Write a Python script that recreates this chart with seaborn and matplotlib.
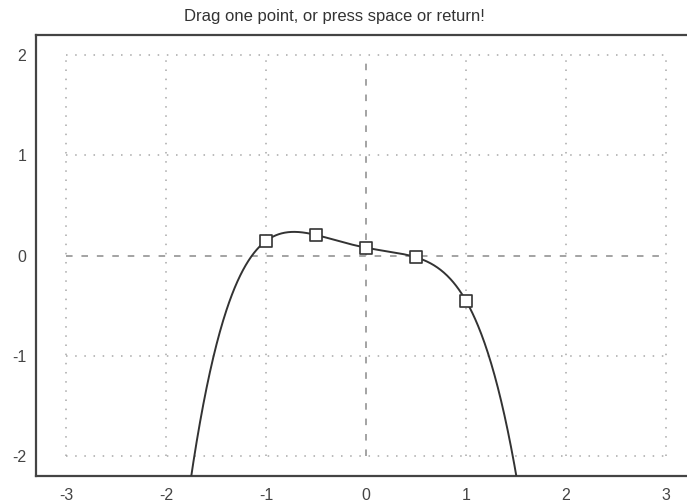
import numpy as np
import pandas as pd
import matplotlib
matplotlib.use("Agg")
import matplotlib.pyplot as plt
import seaborn as sns

# Data
point_x = [-1.0, -0.5, 0.0, 0.5, 1.0]
point_y = [0.145, 0.205, 0.078, -0.018, -0.452]
x_ticks = [-3, -2, -1, 0, 1, 2, 3]
y_ticks = [-2, -1, 0, 1, 2]
title = "Drag one point, or press space or return!"

sns.set_theme(style="white")
plt.rcParams['font.family'] = ['Liberation Sans', 'DejaVu Sans']

fig = plt.figure(figsize=(6.87, 5.04), dpi=100)
ax = fig.add_axes([36/687, 1-476/504, 660/687, 441/504])

# interpolating polynomial through the points (as in the original chart)
coef = np.polyfit(point_x, point_y, len(point_x) - 1)
xs = np.linspace(-3.3, 3.3, 1200)
curve = pd.DataFrame({"x": xs, "y": np.polyval(coef, xs)})

dot_kw = dict(color="#a8a8a8", lw=1.1, zorder=1, ls=(0, (1, 5)))
dash_kw = dict(color="#8a8a8a", lw=1.1, zorder=1, ls=(0, (4.3, 5.8)))
for t in x_ticks:
    kw = dash_kw if t == 0 else dot_kw
    ax.plot([t, t], [y_ticks[0], y_ticks[-1]], **kw)
for t in y_ticks:
    kw = dash_kw if t == 0 else dot_kw
    ax.plot([x_ticks[0], x_ticks[-1]], [t, t], **kw)

sns.lineplot(data=curve, x="x", y="y", ax=ax, color="#333333", lw=1.4,
             sort=False, zorder=3)
pts = pd.DataFrame({"x": point_x, "y": point_y})
sns.scatterplot(data=pts, x="x", y="y", ax=ax, marker="s", s=80,
                facecolor="white", edgecolor="#333333", linewidth=1.2, zorder=4)

ax.set_xlim(-3.3, 3.3)
ax.set_ylim(-2.2, 2.2)
ax.set_xticks(x_ticks)
ax.set_yticks(y_ticks)
ax.set_xticklabels([str(t) for t in x_ticks])
ax.set_yticklabels([str(t) for t in y_ticks])
ax.set_xlabel("")
ax.set_ylabel("")
ax.tick_params(axis="both", length=0, labelsize=11.5, colors="#444444")
ax.tick_params(axis="x", pad=9)
ax.tick_params(axis="y", pad=7)
for s in ax.spines.values():
    s.set_color("#444444")
    s.set_linewidth(1.6)
fig.text(334/687, 1 - 16/504, title, fontsize=12, color="#333333",
         ha="center", va="center")

fig.savefig("out.png", dpi=100)
